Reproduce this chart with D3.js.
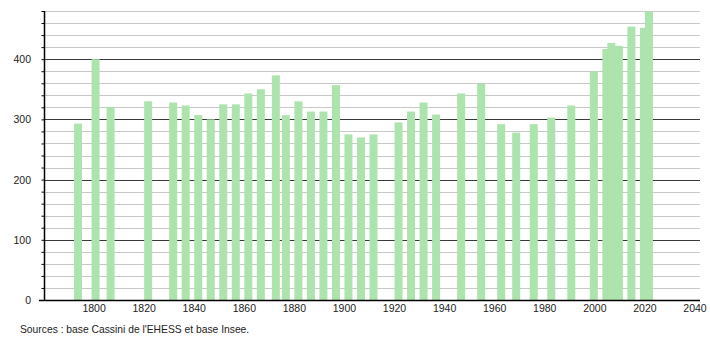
<!DOCTYPE html>
<html>
<head>
<meta charset="utf-8">
<script src="https://cdn.jsdelivr.net/npm/d3@7"></script>
<style>
  body { margin: 0; background: #fff; }
  svg { display: block; font-family: "Liberation Sans", Arial, sans-serif; }
</style>
</head>
<body>
<div id="chart"></div>
<script>
// Census years and population values
const years = [1793, 1800, 1806, 1821, 1831, 1836, 1841, 1846, 1851, 1856,
  1861, 1866, 1872, 1876, 1881, 1886, 1891, 1896, 1901, 1906,
  1911, 1921, 1926, 1931, 1936, 1946, 1954, 1962, 1968, 1975,
  1982, 1990, 1999, 2004, 2006, 2009, 2014, 2019, 2021];
const population = [293, 400, 320, 330, 328, 323, 307, 300, 325, 325,
  343, 350, 373, 307, 330, 313, 313, 357, 275, 270,
  275, 295, 313, 328, 308, 343, 359, 292, 278, 292,
  303, 323, 380, 417, 427, 422, 454, 452, 479];
const xTicks = [1800, 1820, 1840, 1860, 1880, 1900, 1920, 1940, 1960, 1980, 2000, 2020, 2040];
const yMajor = [0, 100, 200, 300, 400];
const yMinor = d3.range(20, 481, 20);
const source = "Sources : base Cassini de l'EHESS et base Insee.";

const width = 710;
const height = 340;
const plot = {left: 44, right: 700, top: 11, bottom: 300};

const svg = d3.select("#chart")
  .append("svg")
  .attr("width", width)
  .attr("height", height);

const x = d3.scaleLinear()
  .domain([1780, 2042])
  .range([plot.left, plot.right]);

const y = d3.scaleLinear()
  .domain([0, 480])
  .range([plot.bottom, plot.top]);

// Minor gridlines (every 20)
svg.append("g")
  .selectAll("line")
  .data(yMinor.filter(d => d % 100 !== 0))
  .join("line")
  .attr("x1", plot.left)
  .attr("x2", plot.right)
  .attr("y1", d => Math.round(y(d)) + 0.5)
  .attr("y2", d => Math.round(y(d)) + 0.5)
  .attr("stroke", "#c8c8c8");

// Major gridlines (every 100)
svg.append("g")
  .selectAll("line")
  .data(yMajor.filter(d => d > 0))
  .join("line")
  .attr("x1", plot.left)
  .attr("x2", plot.right)
  .attr("y1", d => Math.round(y(d)) + 0.5)
  .attr("y2", d => Math.round(y(d)) + 0.5)
  .attr("stroke", "#3a3a3a");

// Bars
const data = years.map((yr, i) => ({year: yr, value: population[i]}));
svg.append("g")
  .selectAll("rect")
  .data(data)
  .join("rect")
  .attr("x", d => x(d.year) - 2.5)
  .attr("width", 8)
  .attr("y", d => y(d.value))
  .attr("height", d => plot.bottom - y(d.value))
  .attr("fill", "#ade3ad");

// Y axis
const yAxis = svg.append("g")
  .attr("transform", `translate(${plot.left + 0.5},0)`)
  .call(d3.axisLeft(y).tickValues(yMinor.concat([0])).tickSize(3).tickFormat(() => ""));
yAxis.select(".domain").remove();
yAxis.selectAll(".tick line").attr("stroke", "#000");
yAxis.append("line")
  .attr("y1", plot.top)
  .attr("y2", plot.bottom)
  .attr("stroke", "#000")
  .attr("stroke-width", 1.5);

svg.append("g")
  .selectAll("text")
  .data(yMajor)
  .join("text")
  .attr("x", 31)
  .attr("y", d => y(d) + 4)
  .attr("text-anchor", "end")
  .attr("font-size", 10.5)
  .attr("fill", "#222")
  .text(d => d);

// X axis
svg.append("line")
  .attr("x1", 39)
  .attr("x2", plot.right)
  .attr("y1", plot.bottom + 0.5)
  .attr("y2", plot.bottom + 0.5)
  .attr("stroke", "#000")
  .attr("stroke-width", 1.5);

svg.append("g")
  .selectAll("text")
  .data(xTicks)
  .join("text")
  .attr("x", d => x(d))
  .attr("y", 312)
  .attr("text-anchor", "middle")
  .attr("font-size", 10.5)
  .attr("fill", "#222")
  .text(d => d);

// Source note
svg.append("text")
  .attr("x", 20)
  .attr("y", 333)
  .attr("font-size", 10.3)
  .attr("fill", "#222")
  .text(source);
</script>
</body>
</html>
